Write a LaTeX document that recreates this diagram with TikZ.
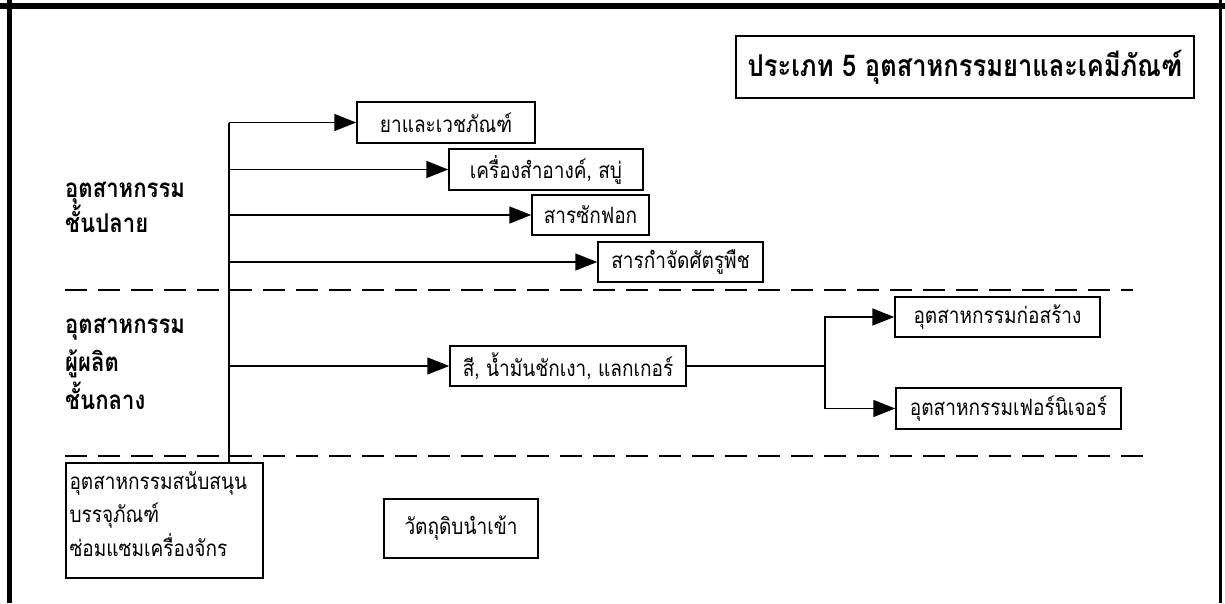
\documentclass[tikz,border=0pt]{standalone}
\usepackage{fontspec}
\newfontfamily\thai[Script=Thai, FakeStretch=0.85]{Loma}
\usetikzlibrary{arrows.meta}
\begin{document}
\begin{tikzpicture}[x=1pt,y=-1pt,
  box/.style={draw, line width=1.5pt, inner sep=0pt, minimum height=40pt,
    font=\thai\fontsize{22.4}{24}\selectfont},
  arr/.style={line width=1.5pt, -{Triangle[length=22pt,width=17pt]}},
  link/.style={line width=1.5pt},
  tier/.style={line width=2.8pt, dash pattern=on 22pt off 11pt},
  lbl/.style={align=left, inner sep=0pt, anchor=north west,
    font=\thai\bfseries\fontsize{26}{38}\selectfont}]
\useasboundingbox (0,0) rectangle (1225,603);
\fill[white] (0,0) rectangle (1225,603);

% page frame, open at the bottom
\draw[line width=6pt] (0,6) -- (1225,6);
\draw[line width=5pt] (9.5,0) -- (9.5,603);
\draw[line width=3.5pt] (1220.5,0) -- (1220.5,603);

% heading
\node[box, line width=1.8pt, minimum width=458pt, minimum height=62pt,
  font=\thai\bfseries\fontsize{30}{32}\selectfont]
  (title) at (965,67) {ประเภท 5 อุตสาหกรรมยาและเคมีภัณฑ์};

% tier separators
\draw[tier] (65,290) -- (1133,290);
\draw[tier] (65,456) -- (1143,456);

% tier labels
\node[lbl, font=\thai\bfseries\fontsize{26}{29}\selectfont] (downstream) at (65,182) {อุตสาหกรรม\\ชั้นปลาย};
\node[lbl] (midstream) at (65,318) {อุตสาหกรรม\\ผู้ผลิต\\ชั้นกลาง};

% downstream products
\node[box, minimum width=178pt, minimum height=41pt] (b1) at (446,122.5) {ยาและเวชภัณฑ์};
\node[box, minimum width=194pt, minimum height=41pt] (b2) at (546,169.5) {เครื่องสำอางค์, สบู่};
\node[box, minimum width=117pt] (b3) at (590.5,215) {สารซักฟอก};
\node[box, minimum width=165pt] (b4) at (680.5,262) {สารกำจัดศัตรูพืช};

% midstream product and its users
\node[box, minimum width=236pt] (b5) at (568,366) {สี, น้ำมันชักเงา, แลกเกอร์};
\node[box, minimum width=205pt] (b6) at (997.5,317) {อุตสาหกรรมก่อสร้าง};
\node[box, minimum width=225pt, minimum height=41pt] (b7) at (1008.5,408.5) {อุตสาหกรรมเฟอร์นิเจอร์};

% supporting industries and imports (a short empty last line lifts the text a little)
\node[box, minimum height=115pt, text width=190pt, inner xsep=3.5pt, align=left,
  font=\thai\fontsize{22.4}{33.5}\selectfont]
  (b8) at (164.5,520.5) {อุตสาหกรรมสนับสนุน\\บรรจุภัณฑ์\\ซ่อมแซมเครื่องจักร\\[-20pt]\mbox{}};
\node[box, minimum width=154pt, minimum height=59pt] (b9) at (461,528.5) {วัตถุดิบนำเข้า};

% trunk from the supporting industries up to the products
\coordinate (trunk) at (229,0);
\draw[link] (trunk |- b8.north) -- (trunk |- b1.west);
\draw[arr] (trunk |- b1.west) -- (b1.west);
\draw[arr] (trunk |- b2.west) -- (b2.west);
\draw[arr] (trunk |- b3.west) -- (b3.west);
\draw[arr] (trunk |- b4.west) -- (b4.west);
\draw[arr] (trunk |- b5.west) -- (b5.west);

% fork to the user industries
\coordinate (fork) at (825,0);
\draw[link] (b5.east) -- (fork |- b5.east);
\draw[arr] (fork |- b5.east) |- (b6.west);
\draw[arr] (fork |- b5.east) |- (b7.west);
\end{tikzpicture}
\end{document}
